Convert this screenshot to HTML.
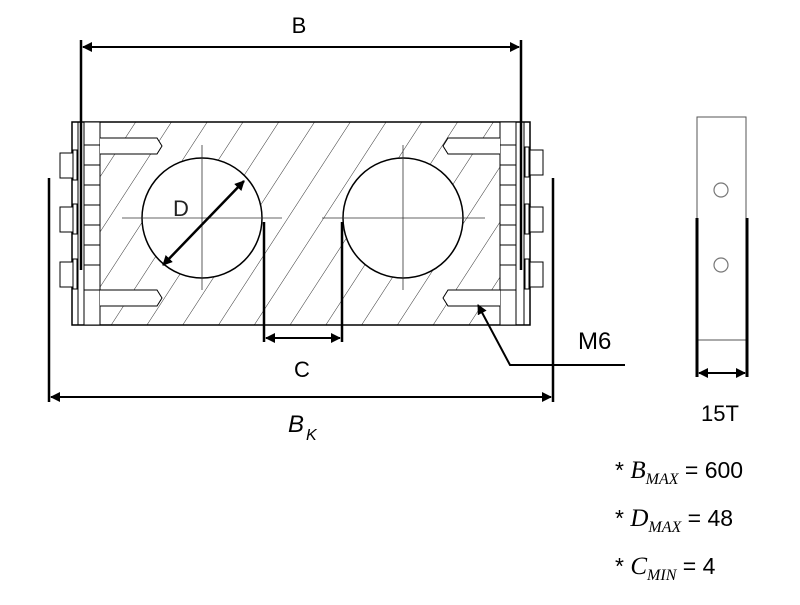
<!DOCTYPE html>
<html><head><meta charset="utf-8"><style>
body{margin:0;background:#fff;}
svg text{font-family:"Liberation Sans",sans-serif;}
</style></head><body>
<svg width="800" height="600" viewBox="0 0 800 600" xmlns="http://www.w3.org/2000/svg">
<defs>
<pattern id="h" width="30" height="30" patternUnits="userSpaceOnUse" patternTransform="rotate(33)">
<line x1="0" y1="0" x2="0" y2="30" stroke="#333" stroke-width="1"/>
</pattern>
<marker id="a" markerWidth="10" markerHeight="10" refX="9" refY="5" orient="auto-start-reverse" markerUnits="userSpaceOnUse">
<path d="M0,0 L10,5 L0,10 z" fill="#000"/></marker>
</defs>
<rect width="800" height="600" fill="#fff"/>
<!-- body -->
<rect x="100" y="122" width="400" height="203" fill="url(#h)" stroke="none"/>
<circle cx="202" cy="218" r="60" fill="#fff" stroke="#000" stroke-width="1.5"/>
<circle cx="403" cy="218" r="60" fill="#fff" stroke="#000" stroke-width="1.5"/>
<rect x="72" y="122" width="458" height="203" fill="none" stroke="#000" stroke-width="1.5"/>
<!-- crosshairs -->
<g stroke="#333" stroke-width="0.8">
<line x1="122" y1="218" x2="282" y2="218"/><line x1="202" y1="145" x2="202" y2="290"/>
<line x1="322" y1="218" x2="485" y2="218"/><line x1="403" y1="145" x2="403" y2="290"/>
</g>
<!-- side plates -->
<g stroke="#000" stroke-width="1" fill="#fff">
<rect x="84" y="122" width="16" height="203"/><rect x="500" y="122" width="16" height="203"/>
<line x1="78" y1="122" x2="78" y2="325"/><line x1="524" y1="122" x2="524" y2="325"/>
<line x1="84" y1="145" x2="100" y2="145"/><line x1="84" y1="165" x2="100" y2="165"/><line x1="84" y1="185" x2="100" y2="185"/><line x1="84" y1="205" x2="100" y2="205"/><line x1="84" y1="225" x2="100" y2="225"/><line x1="84" y1="245" x2="100" y2="245"/><line x1="84" y1="265" x2="100" y2="265"/><line x1="84" y1="290" x2="100" y2="290"/>
<line x1="500" y1="145" x2="516" y2="145"/><line x1="500" y1="165" x2="516" y2="165"/><line x1="500" y1="185" x2="516" y2="185"/><line x1="500" y1="205" x2="516" y2="205"/><line x1="500" y1="225" x2="516" y2="225"/><line x1="500" y1="245" x2="516" y2="245"/><line x1="500" y1="265" x2="516" y2="265"/><line x1="500" y1="290" x2="516" y2="290"/>
<!-- nuts -->
<rect x="60" y="153" width="13" height="25"/><rect x="60" y="207" width="13" height="25"/><rect x="60" y="262" width="13" height="25"/>
<rect x="73" y="150" width="4" height="30"/><rect x="73" y="204" width="4" height="30"/><rect x="73" y="259" width="4" height="30"/>
<rect x="530" y="150" width="13" height="25"/><rect x="530" y="207" width="13" height="25"/><rect x="530" y="262" width="13" height="25"/>
<rect x="525" y="147" width="4" height="30"/><rect x="525" y="204" width="4" height="30"/><rect x="525" y="259" width="4" height="30"/>
<!-- bolts -->
<path d="M100,138 H157 L162,146 L157,154 H100"/><path d="M100,290 H157 L162,298 L157,306 H100"/>
<path d="M500,138 H448 L443,146 L448,154 H500"/><path d="M500,290 H448 L443,298 L448,306 H500"/>
</g>
<!-- dims -->
<g stroke="#000" stroke-width="2.5" fill="none">
<line x1="81" y1="40" x2="81" y2="270"/><line x1="521" y1="40" x2="521" y2="270"/>
<line x1="49" y1="178" x2="49" y2="402"/><line x1="553" y1="178" x2="553" y2="402"/>
<line x1="264" y1="222" x2="264" y2="342"/><line x1="342" y1="222" x2="342" y2="342"/>
</g>
<g stroke="#000" stroke-width="2" fill="none">
<line x1="83" y1="47" x2="519" y2="47" marker-start="url(#a)" marker-end="url(#a)"/>
<line x1="51" y1="397" x2="551" y2="397" marker-start="url(#a)" marker-end="url(#a)"/>
<line x1="266" y1="338" x2="340" y2="338" marker-start="url(#a)" marker-end="url(#a)"/>
<line x1="244" y1="181" x2="163" y2="265" stroke-width="2.5" marker-start="url(#a)" marker-end="url(#a)"/>
<polyline points="478,305 510,365 625,365" marker-start="url(#a)"/>
</g>
<text x="299" y="33" font-size="22" text-anchor="middle">B</text>
<text x="181" y="216" font-size="22" text-anchor="middle" fill="#222">D</text>
<text x="302" y="377" font-size="22" text-anchor="middle">C</text>
<text x="578" y="349" font-size="24">M6</text>
<text x="288" y="432" font-size="24" font-family="Liberation Serif" font-style="italic">B</text>
<text x="306" y="440" font-size="16" font-family="Liberation Serif" font-style="italic">K</text>
<!-- side view -->
<rect x="697" y="117" width="49" height="223" fill="#fff" stroke="#555" stroke-width="1"/>
<circle cx="721" cy="190" r="7" fill="none" stroke="#777" stroke-width="1.2"/>
<circle cx="721" cy="265" r="7" fill="none" stroke="#777" stroke-width="1.2"/>
<g stroke="#000" stroke-width="3"><line x1="697" y1="218" x2="697" y2="377"/><line x1="747" y1="218" x2="747" y2="377"/></g>
<line x1="699" y1="373" x2="745" y2="373" stroke="#000" stroke-width="2" marker-start="url(#a)" marker-end="url(#a)"/>
<text x="720" y="421" font-size="22" text-anchor="middle">15T</text>
<g font-size="23">
<text x="615" y="478">* <tspan font-family="Liberation Serif" font-style="italic" font-size="25">B</tspan><tspan font-family="Liberation Serif" font-style="italic" font-size="16" dy="6">MAX</tspan><tspan dy="-6"> = 600</tspan></text>
<text x="615" y="526">* <tspan font-family="Liberation Serif" font-style="italic" font-size="25">D</tspan><tspan font-family="Liberation Serif" font-style="italic" font-size="16" dy="6">MAX</tspan><tspan dy="-6"> = 48</tspan></text>
<text x="615" y="574">* <tspan font-family="Liberation Serif" font-style="italic" font-size="25">C</tspan><tspan font-family="Liberation Serif" font-style="italic" font-size="16" dy="6">MIN</tspan><tspan dy="-6"> = 4</tspan></text>
</g>
</svg>
</body></html>
